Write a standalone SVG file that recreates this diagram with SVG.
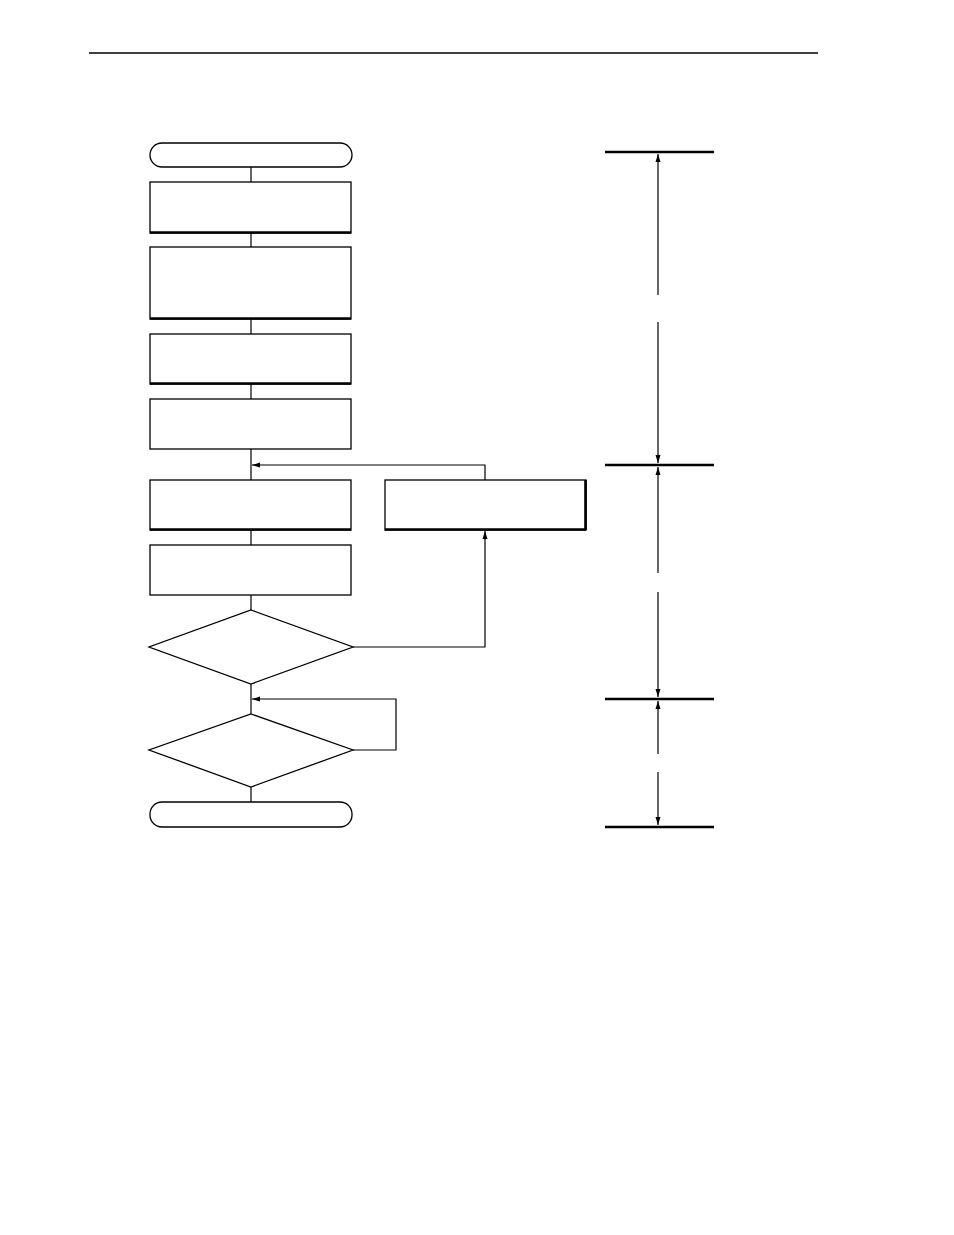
<svg xmlns="http://www.w3.org/2000/svg" width="954" height="1235" viewBox="0 0 954 1235">
<style>
.n{fill:#fff;stroke:#000;stroke-width:1.3}
.sh{stroke:#000;stroke-width:2.6;fill:none}
.c{fill:none;stroke:#000;stroke-width:1.2}
.d{stroke:#000;stroke-width:2.6}
</style>
<defs>
<marker id="ah" viewBox="0 0 8 6" refX="8" refY="3" markerWidth="8" markerHeight="6" markerUnits="userSpaceOnUse" orient="auto">
<path d="M0,0.5 L8,3 L0,5.5 Z" fill="#000"/>
</marker>
</defs>
<rect width="954" height="1235" fill="#fff"/>
<line x1="89" y1="53" x2="818" y2="53" stroke="#000" stroke-width="1.3"/>
<g id="connectors">
<line class="c" x1="251" y1="167" x2="251" y2="182"/>
<line class="c" x1="251" y1="233" x2="251" y2="247"/>
<line class="c" x1="251" y1="319" x2="251" y2="334"/>
<line class="c" x1="251" y1="384" x2="251" y2="399"/>
<line class="c" x1="251" y1="449" x2="251" y2="480"/>
<line class="c" x1="251" y1="530" x2="251" y2="545"/>
<line class="c" x1="251" y1="595" x2="251" y2="610"/>
<line class="c" x1="251" y1="684" x2="251" y2="714"/>
<line class="c" x1="251" y1="787" x2="251" y2="802"/>
<polyline class="c" points="485,480 485,465 252,465" marker-end="url(#ah)"/>
<polyline class="c" points="353,647 485,647 485,531" marker-end="url(#ah)"/>
<polyline class="c" points="353,750 396,750 396,699 252,699" marker-end="url(#ah)"/>
</g>
<g id="start"><rect class="n" x="150" y="143" width="202" height="24" rx="12"/></g>
<g id="box1"><rect class="n" x="150" y="182" width="201" height="51"/><line class="sh" x1="150" y1="232.5" x2="351" y2="232.5"/></g>
<g id="box2"><rect class="n" x="150" y="247" width="201" height="72"/><line class="sh" x1="150" y1="318.5" x2="351" y2="318.5"/></g>
<g id="box3"><rect class="n" x="150" y="334" width="201" height="50"/><line class="sh" x1="150" y1="383.5" x2="351" y2="383.5"/></g>
<g id="box4"><rect class="n" x="150" y="399" width="201" height="50"/></g>
<g id="box5"><rect class="n" x="150" y="480" width="201" height="50"/><line class="sh" x1="150" y1="529.5" x2="351" y2="529.5"/></g>
<g id="box6"><rect class="n" x="150" y="545" width="201" height="50"/></g>
<g id="boxR"><rect class="n" x="385" y="480" width="201" height="50" stroke-width="1.8"/><line class="sh" x1="385" y1="529.5" x2="586" y2="529.5"/><line class="sh" x1="585.5" y1="480" x2="585.5" y2="530"/></g>
<g id="dec1"><polygon class="n" points="251,610 353,647 251,684 149,647"/></g>
<g id="dec2"><polygon class="n" points="251,714 353,750 251,787 149,750"/></g>
<g id="end"><rect class="n" x="150" y="802" width="202" height="25" rx="12"/></g>
<g id="dimensions">
<line class="d" x1="605" y1="152" x2="714" y2="152"/>
<line class="d" x1="605" y1="465" x2="714" y2="465"/>
<line class="d" x1="605" y1="699" x2="714" y2="699"/>
<line class="d" x1="605" y1="827" x2="714" y2="827"/>
<line class="c" x1="658" y1="295" x2="658" y2="154" marker-end="url(#ah)"/>
<line class="c" x1="658" y1="322" x2="658" y2="463" marker-end="url(#ah)"/>
<line class="c" x1="658" y1="573" x2="658" y2="467" marker-end="url(#ah)"/>
<line class="c" x1="658" y1="592" x2="658" y2="697" marker-end="url(#ah)"/>
<line class="c" x1="658" y1="754" x2="658" y2="701" marker-end="url(#ah)"/>
<line class="c" x1="658" y1="772" x2="658" y2="825" marker-end="url(#ah)"/>
</g>
</svg>
